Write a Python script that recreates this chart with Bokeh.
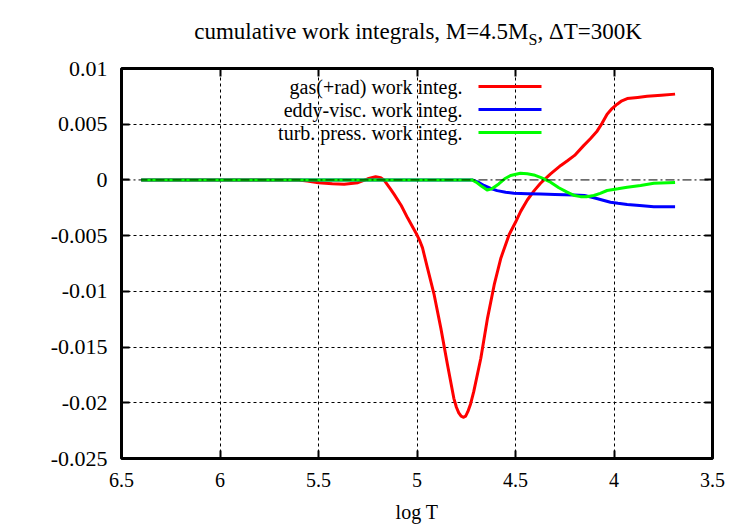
from bokeh.plotting import figure
from bokeh.models import (Range1d, FixedTicker, LinearAxis, Label, BoxAnnotation,
                          Span, CustomJSTickFormatter, Grid, Div)
from bokeh.layouts import column
from bokeh.embed import file_html
from bokeh.resources import INLINE

FONT = "Liberation Serif"

# ---- data ----
title_main = "cumulative work integrals, M=4.5M"
title_sub = "S"
title_tail = ", \u0394T=300K"
x_ticks = [6.5, 6.0, 5.5, 5.0, 4.5, 4.0, 3.5]
x_tick_labels = ["6.5", "6", "5.5", "5", "4.5", "4", "3.5"]
y_ticks = [0.01, 0.005, 0.0, -0.005, -0.01, -0.015, -0.02, -0.025]
y_tick_labels = ["0.01", "0.005", "0", "-0.005", "-0.01", "-0.015", "-0.02", "-0.025"]

gas_logT = [6.4, 6.0, 5.6, 5.557, 5.5, 5.43, 5.37, 5.30, 5.25, 5.21, 5.184, 5.168,
            5.135, 5.116, 5.08, 5.048, 5.02, 5.001, 4.985, 4.972, 4.947, 4.913,
            4.879, 4.845, 4.813, 4.80, 4.788, 4.776, 4.765, 4.753, 4.742, 4.728,
            4.712, 4.676, 4.642, 4.608,
            4.574, 4.532, 4.50, 4.473, 4.44, 4.405, 4.373, 4.337, 4.322, 4.27,
            4.238, 4.20, 4.153, 4.12, 4.085, 4.06, 4.035, 4.01, 3.984, 3.96,
            3.933, 3.88, 3.832, 3.76, 3.69]
gas_work = [0.0, 0.0, 0.0, -0.0001, -0.00025, -0.00035, -0.00038, -0.00025, 0.0001,
            0.00028, 0.0002, 0.0, -0.0008, -0.0013, -0.0023, -0.0034, -0.0043,
            -0.0049, -0.0055, -0.0061, -0.0079, -0.0103, -0.0133, -0.0166, -0.0196,
            -0.0204, -0.0209, -0.0212, -0.0213, -0.0212, -0.0208, -0.0201,
            -0.019, -0.016, -0.0124, -0.0094, -0.007,
            -0.0049, -0.0038, -0.0028, -0.0018, -0.00096, -0.0003, 0.0003, 0.00054,
            0.0013, 0.0017, 0.0022, 0.0031, 0.0037, 0.0044, 0.0051, 0.0059, 0.0064,
            0.0068, 0.0071, 0.0073, 0.0074, 0.0075, 0.0076, 0.0077]

eddy_logT = [6.4, 4.72, 4.69, 4.66, 4.62, 4.593, 4.55, 4.508, 4.44, 4.373, 4.30,
             4.204, 4.15, 4.102, 4.06, 4.018, 3.98, 3.933, 3.87, 3.798, 3.69]
eddy_work = [0.0, 0.0, -0.0002, -0.0005, -0.0008, -0.00096, -0.0011, -0.0012,
             -0.00124, -0.00126, -0.0013, -0.00135, -0.0014, -0.0016, -0.0018,
             -0.002, -0.0021, -0.0022, -0.0023, -0.0024, -0.0024]

turb_logT = [6.4, 4.72, 4.70, 4.67, 4.644, 4.62, 4.585, 4.555, 4.525, 4.475, 4.44,
             4.407, 4.37, 4.322, 4.28, 4.238, 4.20, 4.17, 4.14, 4.102, 4.07, 4.035,
             3.98, 3.933, 3.865, 3.798, 3.69]
turb_work = [0.0, 0.0, -0.0002, -0.0006, -0.0009, -0.0008, -0.00036, 0.0001, 0.0004,
             0.0006, 0.00055, 0.00045, 0.0002, -0.0002, -0.0007, -0.0011, -0.0014,
             -0.0015, -0.0015, -0.0014, -0.0012, -0.00095, -0.0008, -0.00065,
             -0.0005, -0.0003, -0.00022]

series_names = ["gas(+rad) work integ.", "eddy-visc. work integ.", "turb. press. work integ."]
series_colors = ["#ff0000", "#0000ff", "#00ff00"]

# ---- title (HTML, to allow the subscript) ----
title_div = Div(
    text=(f'<div style="width:664px;margin-left:86px;text-align:center;'
          f'font-family:\'{FONT}\';font-size:23px;line-height:26px;color:black;'
          f'padding-top:19px;white-space:nowrap">{title_main}'
          f'<sub style="font-size:16px">{title_sub}</sub>{title_tail}</div>'),
    width=750, height=50, margin=0)

# ---- figure ----
p = figure(width=750, height=475, output_backend="svg", toolbar_location=None,
           x_range=Range1d(6.5, 3.5), y_range=Range1d(-0.025, 0.01),
           min_border_left=121, min_border_right=38, min_border_top=18,
           min_border_bottom=67, x_axis_type=None, y_axis_type=None, margin=0)
p.background_fill_color = "white"
p.border_fill_color = "white"
p.outline_line_color = "black"
p.outline_line_width = 3

xt = FixedTicker(ticks=x_ticks)
yt = FixedTicker(ticks=y_ticks)


def style_axis(ax, size="20px"):
    ax.axis_line_color = None
    ax.major_tick_in = 8
    ax.major_tick_out = 0
    ax.major_tick_line_width = 2
    ax.major_tick_line_color = "black"
    ax.minor_tick_line_color = None
    ax.major_label_text_font = FONT
    ax.major_label_text_font_size = size
    ax.major_label_text_color = "black"
    ax.axis_label_text_font = FONT
    ax.axis_label_text_font_size = "20px"
    ax.axis_label_text_font_style = "normal"
    ax.axis_label_text_color = "black"


xaxis = LinearAxis(ticker=xt, axis_label="log T",
                   major_label_overrides=dict(zip(x_ticks, x_tick_labels)))
style_axis(xaxis)
xaxis.major_label_standoff = 14
xaxis.axis_label_standoff = 11
p.add_layout(xaxis, "below")

yaxis = LinearAxis(ticker=yt,
                   major_label_overrides=dict(zip(y_ticks, y_tick_labels)))
style_axis(yaxis, "22px")
yaxis.major_label_standoff = 14
p.add_layout(yaxis, "left")

blank = CustomJSTickFormatter(code="return ''")
xtop = LinearAxis(ticker=xt, formatter=blank)
style_axis(xtop, "1px")
xtop.major_label_standoff = 0
p.add_layout(xtop, "above")
yright = LinearAxis(ticker=yt, formatter=blank)
style_axis(yright, "1px")
yright.major_label_standoff = 0
p.add_layout(yright, "right")

# grid
xgrid = Grid(dimension=0, ticker=xt, grid_line_color="black", grid_line_width=1,
             grid_line_dash="3 3")
ygrid = Grid(dimension=1, ticker=FixedTicker(ticks=[t for t in y_ticks if t != 0]),
             grid_line_color="black", grid_line_width=1, grid_line_dash="3 3")
p.add_layout(xgrid)
p.add_layout(ygrid)
p.add_layout(Span(location=0, dimension="width", line_color="black",
                  line_width=1, line_dash="9 3 2 3"))

# curves
for xs, ys, c in [(gas_logT, gas_work, series_colors[0]),
                  (eddy_logT, eddy_work, series_colors[1]),
                  (turb_logT, turb_work, series_colors[2])]:
    p.line(xs, ys, line_color=c, line_width=3, line_join="round")

# legend (gnuplot style: text right-aligned, sample on the right)
leg_y = [372, 349, 326]
for name, c, yy in zip(series_names, series_colors, leg_y):
    p.add_layout(Label(x=341, y=yy, x_units="screen", y_units="screen", text=name,
                       text_align="right", text_baseline="middle",
                       text_font=FONT, text_font_size="20px", text_color="black"))
    p.add_layout(BoxAnnotation(left=357, right=420, bottom=yy - 1.5, top=yy + 1.5,
                               left_units="screen", right_units="screen",
                               bottom_units="screen", top_units="screen",
                               fill_color=c, fill_alpha=1.0, line_alpha=0.0))

layout = column(title_div, p, spacing=0, margin=0)
open("out.html", "w").write(file_html(layout, INLINE))
